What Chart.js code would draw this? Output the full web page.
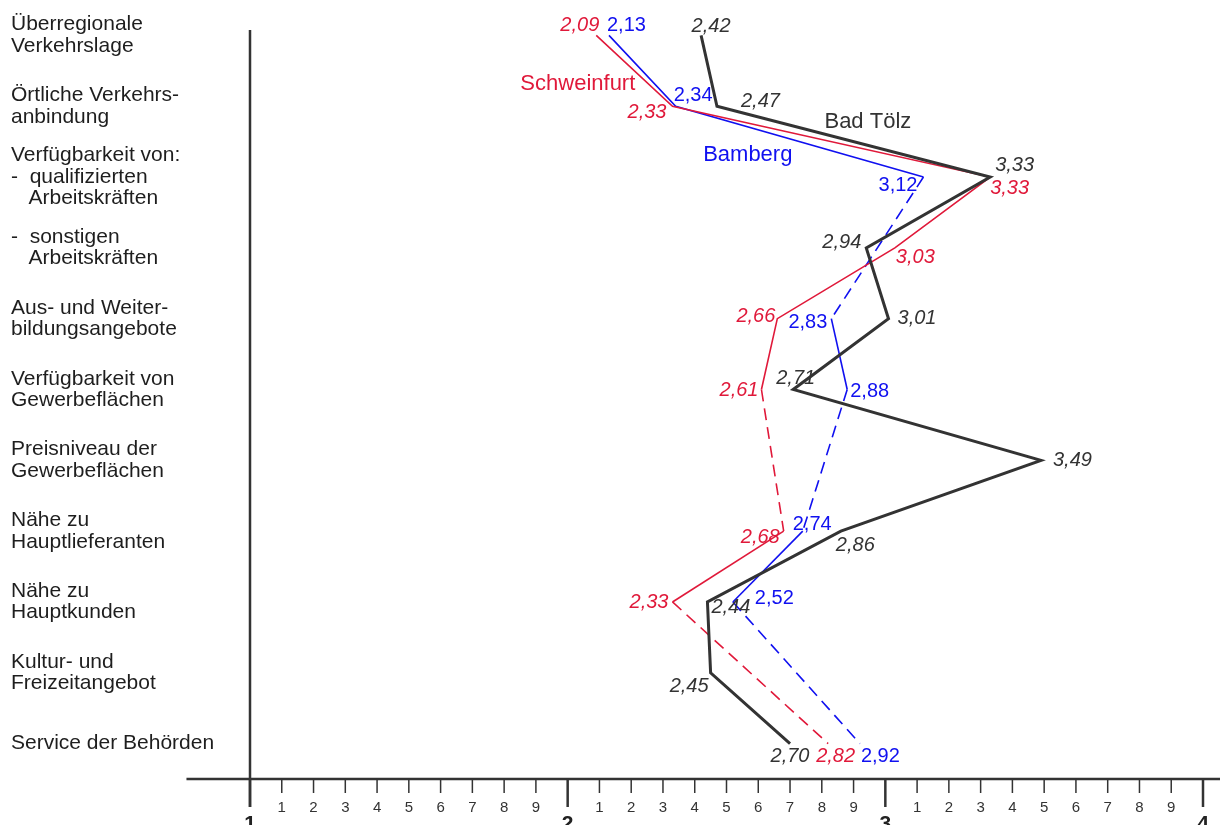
<!DOCTYPE html>
<html>
<head>
<meta charset="utf-8">
<script src="https://cdn.jsdelivr.net/npm/chart.js@4.4.1/dist/chart.umd.min.js"></script>
<style>
  html, body { margin: 0; padding: 0; background: #fff; }
  #wrap { width: 1220px; height: 825px; }
</style>
</head>
<body>
<div id="wrap"><canvas id="chart"></canvas></div>
<script>
// Standortfaktoren, Bewertung 1..4
const categories = [
	['Überregionale', 'Verkehrslage'],
	['Örtliche Verkehrs-', 'anbindung'],
	['Verfügbarkeit von:', '-  qualifizierten', '   Arbeitskräften'],
	['-  sonstigen', '   Arbeitskräften'],
	['Aus- und Weiter-', 'bildungsangebote'],
	['Verfügbarkeit von', 'Gewerbeflächen'],
	['Preisniveau der', 'Gewerbeflächen'],
	['Nähe zu', 'Hauptlieferanten'],
	['Nähe zu', 'Hauptkunden'],
	['Kultur- und', 'Freizeitangebot'],
	['Service der Behörden']
];

const badToelz    = [2.42, 2.47, 3.33, 2.94, 3.01, 2.71, 3.49, 2.86, 2.44, 2.45, 2.70];
const schweinfurt = [2.09, 2.33, 3.33, 3.03, 2.66, 2.61, null, 2.68, 2.33, null, 2.82];
const bamberg     = [2.13, 2.34, 3.12, null, 2.83, 2.88, null, 2.74, 2.52, null, 2.92];

const majorTicks = [1, 2, 3, 4];
const minorTickLabels = ['1', '2', '3', '4', '5', '6', '7', '8', '9'];

// label placement per point: [dx, dy, align]
const badToelzLabelPos = [
	[10, -9, 'center'], [24, -5, 'left'], [5, -12, 'left'], [-5, -5, 'right'],
	[9, 0, 'left'], [-17, -11, 'left'], [12, 0, 'left'], [-5, 14, 'left'],
	[4, 5, 'left'], [-2, 14, 'right'], [0, 13, 'center']
];
const schweinfurtLabelPos = [
	[3, -10, 'right'], [-6, 6, 'right'], [0, 11, 'left'], [1, 10, 'left'],
	[-2, -2, 'right'], [-3, 1, 'right'], null, [-4, 6, 'right'],
	[-4, 0, 'right'], null, [-12, 13, 'left']
];
const bambergLabelPos = [
	[-2, -10, 'left'], [-2, -11, 'left'], [-6, 8, 'right'], null,
	[-4, 4, 'right'], [3, 2, 'left'], null, [-10, -7, 'left'],
	[22, -3, 'left'], null, [1, 13, 'left']
];

const FONT = '"Liberation Sans", Arial, sans-serif';
const C_TOELZ = '#333333';
const C_SCHW = '#e0193a';
const C_BAMB = '#1010f0';

const dashGap = (ctx) => (ctx.p0.skip || ctx.p1.skip) ? [12, 7] : undefined;

const axisPlugin = {
	id: 'axisPlugin',
	afterDraw(chart) {
		const { ctx, chartArea } = chart;
		const x = chart.scales.x;
		const y0 = chartArea.bottom;
		const x1 = x.getPixelForValue(1);

		ctx.save();
		ctx.strokeStyle = '#333';
		ctx.lineWidth = 2.5;
		ctx.beginPath();
		ctx.moveTo(x.getPixelForValue(0.8), y0);
		ctx.lineTo(chart.width, y0);
		ctx.moveTo(x1, 30);
		ctx.lineTo(x1, y0 + 28);
		ctx.stroke();

		// major ticks
		majorTicks.forEach((m) => {
			const px = x.getPixelForValue(m);
			ctx.beginPath();
			ctx.moveTo(px, y0);
			ctx.lineTo(px, y0 + 28);
			ctx.stroke();
		});

		// minor ticks + labels
		ctx.lineWidth = 1.5;
		ctx.fillStyle = '#333';
		ctx.font = '15px ' + FONT;
		ctx.textAlign = 'center';
		ctx.textBaseline = 'middle';
		for (let m = 0; m < majorTicks.length - 1; m++) {
			minorTickLabels.forEach((lab, i) => {
				const px = x.getPixelForValue(majorTicks[m] + (i + 1) / 10);
				ctx.beginPath();
				ctx.moveTo(px, y0);
				ctx.lineTo(px, y0 + 14);
				ctx.stroke();
				ctx.fillText(lab, px, y0 + 29);
			});
		}

		ctx.font = 'bold 21px ' + FONT;
		ctx.fillStyle = '#222';
		ctx.textBaseline = 'top';
		majorTicks.forEach((m) => {
			ctx.fillText(String(m), x.getPixelForValue(m), y0 + 35);
		});
		ctx.restore();
	}
};

const pointLabelPlugin = {
	id: 'pointLabels',
	afterDatasetsDraw(chart) {
		const { ctx } = chart;
		const x = chart.scales.x;
		const y = chart.scales.y;
		ctx.save();
		ctx.textBaseline = 'middle';
		chart.data.datasets.forEach((ds) => {
			ctx.fillStyle = ds.borderColor;
			ctx.font = (ds.italicLabels ? 'italic ' : '') + '20px ' + FONT;
			ds.data.forEach((v, i) => {
				const pos = ds.labelPos[i];
				if (v === null || !pos) return;
				ctx.textAlign = pos[2];
				const px = x.getPixelForValue(v) + pos[0];
				const py = y.getPixelForValue(i) + pos[1];
				ctx.fillText(v.toFixed(2).replace('.', ','), px, py);
			});
		});

		// series names
		ctx.font = '22px ' + FONT;
		ctx.textAlign = 'center';
		const names = [
			['Schweinfurt', C_SCHW, 2.032, 0.69],
			['Bad Tölz', C_TOELZ, 2.945, 1.22],
			['Bamberg', C_BAMB, 2.567, 1.69]
		];
		names.forEach(([t, c, vx, vy]) => {
			ctx.fillStyle = c;
			ctx.fillText(t, x.getPixelForValue(vx), y.getPixelForValue(vy));
		});
		ctx.restore();
	}
};

const ctx = document.getElementById('chart').getContext('2d');

new Chart(ctx, {
	type: 'line',
	data: {
		labels: categories,
		datasets: [
			{
				label: 'Bad Tölz',
				data: badToelz,
				borderColor: C_TOELZ,
				borderWidth: 3,
				italicLabels: true,
				labelPos: badToelzLabelPos
			},
			{
				label: 'Schweinfurt',
				data: schweinfurt,
				borderColor: C_SCHW,
				borderWidth: 1.6,
				spanGaps: true,
				segment: { borderDash: dashGap },
				italicLabels: true,
				labelPos: schweinfurtLabelPos
			},
			{
				label: 'Bamberg',
				data: bamberg,
				borderColor: C_BAMB,
				borderWidth: 1.6,
				spanGaps: true,
				segment: { borderDash: dashGap },
				italicLabels: false,
				labelPos: bambergLabelPos
			}
		]
	},
	options: {
		indexAxis: 'y',
		responsive: true,
		maintainAspectRatio: false,
		animation: false,
		layout: { padding: { left: 11, right: 17, top: 0, bottom: 46 } },
		elements: {
			point: { radius: 0, hoverRadius: 0 },
			line: { tension: 0, borderJoinStyle: 'miter', borderCapStyle: 'butt', fill: false }
		},
		plugins: {
			legend: { display: false },
			tooltip: { enabled: false }
		},
		scales: {
			x: { type: 'linear', min: 1, max: 4, display: false },
			y: {
				type: 'category',
				offset: true,
				grid: { display: false },
				border: { display: false },
				ticks: {
					crossAlign: 'far',
					autoSkip: false,
					color: '#1e1e1e',
					padding: 0,
					font: { family: FONT, size: 21, lineHeight: 1.02 }
				},
				afterFit(scale) {
					scale.width = 239;
					scale.paddingTop = 0;
					scale.paddingBottom = 0;
				}
			}
		}
	},
	plugins: [axisPlugin, pointLabelPlugin]
});
</script>
</body>
</html>
